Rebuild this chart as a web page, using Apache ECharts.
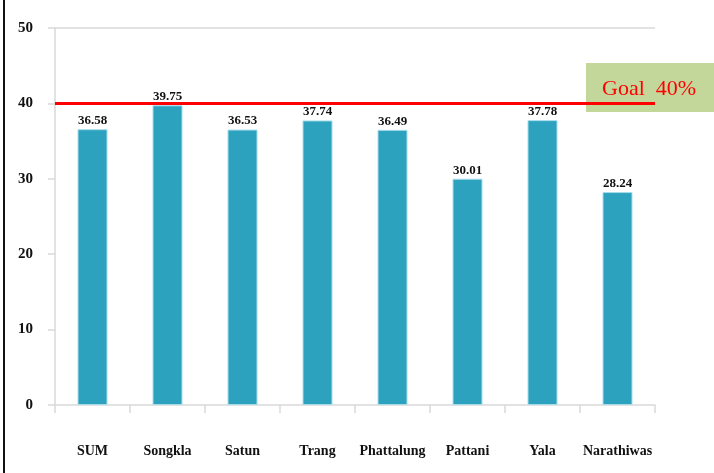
<!DOCTYPE html>
<html>
<head>
<meta charset="utf-8">
<script src="https://cdn.jsdelivr.net/npm/echarts@6/dist/echarts.min.js"></script>
<style>
  html, body { margin: 0; padding: 0; background: #fff; }
  #chart { width: 714px; height: 473px; }
</style>
</head>
<body>
<div id="chart"></div>
<script>
const categories = ['SUM', 'Songkla', 'Satun', 'Trang', 'Phattalung', 'Pattani', 'Yala', 'Narathiwas'];
const values = [36.58, 39.75, 36.53, 37.74, 36.49, 30.01, 37.78, 28.24];
const goalValue = 40;
const goalText = 'Goal  40%';

const serif = '"Liberation Serif", "DejaVu Serif", serif';
const axisGray = '#d9d9d9';

const chart = echarts.init(document.getElementById('chart'), null, { renderer: 'canvas' });

chart.setOption({
  animation: false,
  backgroundColor: '#fff',
  grid: { left: 55, right: 59, top: 28, bottom: 68 },
  xAxis: {
    type: 'category',
    data: categories,
    axisLine: { lineStyle: { color: axisGray, width: 1.5 } },
    axisTick: { show: true, interval: 0, length: 8, lineStyle: { color: axisGray, width: 1.5 } },
    axisLabel: { interval: 0, color: '#111', fontFamily: serif, fontWeight: 'bold', fontSize: 14, margin: 39 },
  },
  yAxis: {
    type: 'value',
    min: 0,
    max: 50,
    interval: 10,
    axisLine: { show: true, lineStyle: { color: axisGray, width: 1.5 } },
    axisTick: { show: true, inside: false, length: 7, lineStyle: { color: axisGray, width: 1.5 } },
    axisLabel: { color: '#111', fontFamily: serif, fontWeight: 'bold', fontSize: 15, margin: 22 },
    splitLine: {
      show: true,
      lineStyle: {
        color: ['rgba(0,0,0,0)', 'rgba(0,0,0,0)', 'rgba(0,0,0,0)', 'rgba(0,0,0,0)', 'rgba(0,0,0,0)', axisGray],
        width: 1.5,
      },
    },
  },
  series: [
    {
      type: 'bar',
      data: values,
      barWidth: '40%',
      itemStyle: { color: '#2ca2bf', borderColor: '#a6dcea', borderWidth: 1 },
      label: {
        show: true,
        position: 'top',
        distance: 2,
        color: '#111',
        fontFamily: serif,
        fontWeight: 'bold',
        fontSize: 13,
        formatter: (p) => p.value.toFixed(2),
      },
      markLine: {
        silent: true,
        symbol: 'none',
        label: { show: false },
        lineStyle: { color: '#ff0000', width: 3, type: 'solid' },
        data: [{ yAxis: goalValue }],
      },
      z: 2,
    },
  ],
  graphic: [
    {
      type: 'line',
      shape: { x1: 4, y1: 0, x2: 4, y2: 473 },
      style: { stroke: '#111', lineWidth: 2 },
    },
    {
      type: 'rect',
      shape: { x: 586, y: 63, width: 128, height: 49 },
      style: { fill: '#c4d79b' },
      z: 1,
    },
    {
      type: 'text',
      x: 602,
      y: 89,
      style: {
        text: goalText,
        fill: '#ff0000',
        font: '22px ' + serif,
        textVerticalAlign: 'middle',
      },
      z: 10,
    },
  ],
});
</script>
</body>
</html>
